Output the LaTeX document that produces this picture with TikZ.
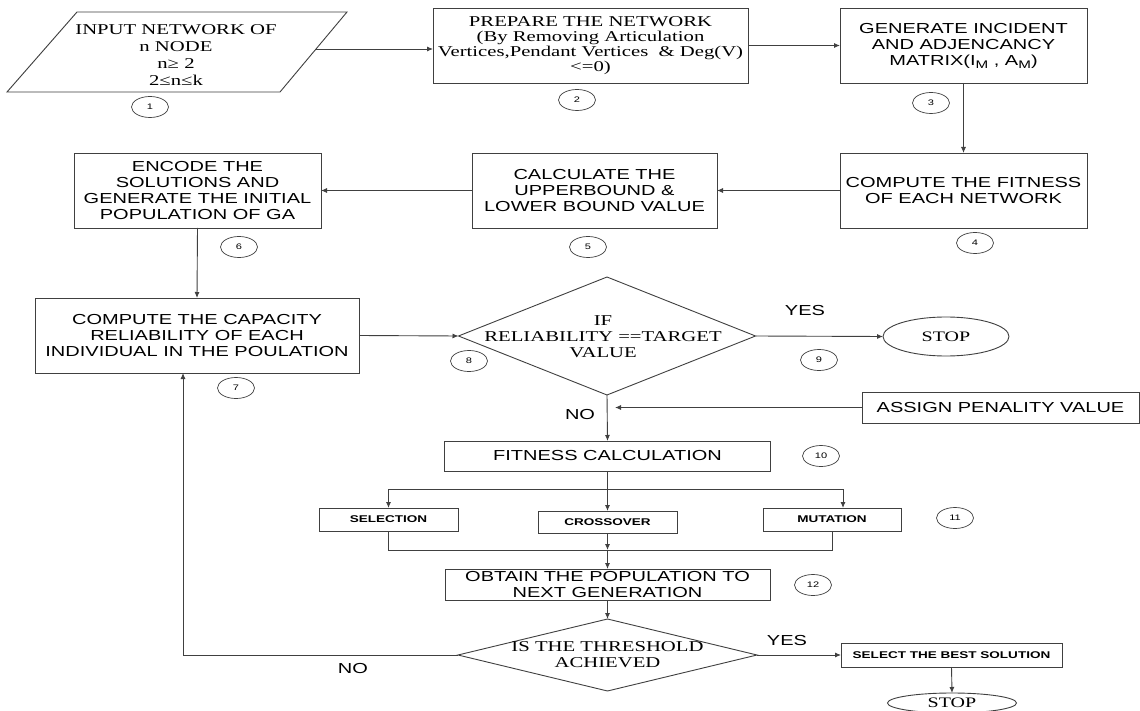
\documentclass[tikz,border=0pt]{standalone}
\usepackage{fontspec}
\setmainfont{Liberation Serif}[FakeStretch=1.38]
\newfontfamily\arialw{Liberation Sans}[FakeStretch=1.38]
\usetikzlibrary{shapes.geometric,arrows.meta,calc}

\tikzset{
  ln/.style={draw=black!75, line width=0.9pt},
  arr/.style={ln, -{Latex[length=6pt,width=5pt]}},
  box/.style={draw=black!75, line width=0.9pt, rectangle, inner sep=0pt, outer sep=0pt,
    align=center, font=\arialw\fontsize{14.5}{16}\selectfont},
  serifbox/.style={box, font=\fontsize{15}{15}\selectfont},
  opbox/.style={box, font=\arialw\bfseries\fontsize{9.8}{10}\selectfont},
  decision/.style={diamond, draw=black!75, line width=0.9pt, inner sep=0pt, outer sep=0pt},
  term/.style={ellipse, draw=black!75, line width=0.9pt, inner sep=0pt, outer sep=0pt,
    font=\fontsize{14.5}{15}\selectfont},
  num/.style={ellipse, draw=black!75, line width=0.7pt, minimum width=37pt,
    minimum height=21pt, inner sep=0pt, font=\arialw\fontsize{8}{8}\selectfont},
  tag/.style={inner sep=0pt, font=\arialw\fontsize{14.5}{15}\selectfont},
  seriftext/.style={inner sep=0pt, align=center, font=\fontsize{15}{16}\selectfont},
}

\begin{document}
\begin{tikzpicture}[x=1pt, y=-1pt]
\useasboundingbox (0,0) rectangle (1140,711);
\fill[white] (0,0) rectangle (1140,711);

% --- input parallelogram
\draw[ln] (77,12) -- (347,12) -- (280,92) -- (7,92) -- cycle;
\node[seriftext, font=\fontsize{15}{16.7}\selectfont] (inp) at (176,55)
  {INPUT NETWORK OF\\n NODE\\n≥ 2\\2≤n≤k};
\coordinate (inpR) at (316,49);

% --- top row
\node[serifbox, minimum width=315pt, minimum height=75pt] (prep) at (590.5,45.5)
  {PREPARE THE NETWORK\\(By Removing Articulation\\Vertices,Pendant Vertices\ \ \& Deg(V)\\<=0)};
\node[box, minimum width=247pt, minimum height=75pt] (gen) at (963.5,45.5)
  {GENERATE INCIDENT\\AND ADJENCANCY\\MATRIX(I\raisebox{-3pt}{\fontsize{11}{11}\selectfont M} , A\raisebox{-3pt}{\fontsize{11}{11}\selectfont M})};

% --- second row
\node[box, minimum width=247pt, minimum height=75pt] (fitn) at (963.5,190.5)
  {COMPUTE THE FITNESS\\OF EACH NETWORK};
\node[box, minimum width=245pt, minimum height=75pt] (calc) at (594.5,190.5)
  {CALCULATE THE\\UPPERBOUND \&\\LOWER BOUND VALUE};
\node[box, minimum width=247pt, minimum height=75pt] (enc) at (197.5,190.5)
  {ENCODE THE\\SOLUTIONS AND\\GENERATE THE INITIAL\\POPULATION OF GA};

% --- third row
\node[box, minimum width=324pt, minimum height=75pt] (cap) at (197,335.5)
  {COMPUTE THE CAPACITY\\RELIABILITY OF EACH\\INDIVIDUAL IN THE POULATION};
\node[decision, minimum width=297pt, minimum height=118pt] (dia8) at (607,336) {};
\node[seriftext] (dia8t) at (603,337) {IF\\RELIABILITY ==TARGET\\VALUE};
\node[term, minimum width=126pt, minimum height=39pt] (stop1) at (946,336.5) {STOP};

% --- genetic loop
\node[box, minimum width=277pt, minimum height=31pt] (asg) at (1000.5,407.5)
  {ASSIGN PENALITY VALUE};
\node[box, minimum width=326pt, minimum height=30pt] (fitc) at (607.5,456)
  {FITNESS CALCULATION};
\node[opbox, minimum width=139pt, minimum height=23pt] (sel) at (388.5,519.5) {SELECTION};
\node[opbox, minimum width=139pt, minimum height=22pt] (cross) at (607.5,522) {CROSSOVER};
\node[opbox, minimum width=138pt, minimum height=23pt] (mut) at (832,519.5) {MUTATION};
\node[box, minimum width=325pt, minimum height=31pt] (obt) at (607.5,584.5)
  {OBTAIN THE POPULATION TO\\NEXT GENERATION};
\node[decision, minimum width=299pt, minimum height=72pt] (dia2) at (607.5,655) {};
\node[seriftext] (dia2t) at (607.5,655) {IS THE THRESHOLD\\ACHIEVED};
\node[opbox, minimum width=221pt, minimum height=24pt] (best) at (951.5,655)
  {SELECT THE BEST SOLUTION};
\node[term, minimum width=129pt, minimum height=20pt] (stop2) at (952,703) {STOP};

% --- branch and merge points
\coordinate (br) at (607.5,489);
\coordinate (mg) at (607.5,550);
\coordinate (lp) at (183,655);

% --- connectors
\draw[arr] (inpR) -- (inpR -| prep.west);
\draw[arr] (prep.east) -- (gen.west);
\draw[arr] (gen.south) -- (fitn.north);
\draw[arr] (fitn.west) -- (calc.east);
\draw[arr] (calc.west) -- (enc.east);
\draw[arr] (enc.south) -- (cap.north);
\draw[arr] (cap.east) -- (dia8.west);
\draw[arr] (dia8.east) -- (stop1.west);
\draw[arr] (dia8.south) -- (fitc.north);
\draw[arr] (asg.west) -- ($(dia8.south |- asg.west)+(8,0)$);
\draw[arr] (fitc.south) -- (cross.north);
\draw[arr] (br) -| (sel.north);
\draw[arr] (br) -| ($(mut.north)+(11,0)$);
\draw[ln] (sel.south) |- (mg);
\draw[ln] (mut.south) |- (mg);
\draw[arr] (cross.south) -- (mg);
\draw[arr] (mg) -- (obt.north);
\draw[arr] (obt.south) -- (dia2.north);
\draw[arr] (dia2.east) -- (best.west);
\draw[arr] (best.south) -- (stop2.north);
\draw[arr] (dia2.west) -- (lp) -- (lp |- cap.south);

% --- branch labels
\node[tag] (yes1) at (805,311) {YES};
\node[tag] (no1) at (580,415) {NO};
\node[tag] (yes2) at (787,641) {YES};
\node[tag] (no2) at (353,669) {NO};

% --- step numbers
\node[num] (n1) at (150,107) {1};
\node[num] (n2) at (577,100) {2};
\node[num] (n3) at (931,103) {3};
\node[num] (n4) at (975,243) {4};
\node[num] (n5) at (588,247) {5};
\node[num] (n6) at (239,247) {6};
\node[num] (n7) at (236,388) {7};
\node[num] (n8) at (469,361) {8};
\node[num] (n9) at (819,360) {9};
\node[num] (n10) at (821,456) {10};
\node[num] (n11) at (955,518) {11};
\node[num] (n12) at (813,585) {12};
\end{tikzpicture}
\end{document}
